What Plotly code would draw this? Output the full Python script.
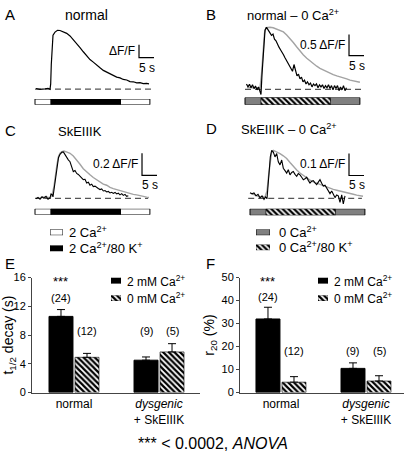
import plotly.graph_objects as go

W, H = 407, 454
FONT = "Liberation Sans, Arial, Helvetica, sans-serif"
PX_PER_S = 3.0

# ---------------- data ----------------
# stimulus timing (s)
stim_on, stim_off, rec_end = 5.3, 28.5, 38.3

# Panel A: normal (time s, dF/F)
a_black = [(0.33, 0.02), (1.67, -0.01), (3.33, 0.01), (4.33, 0.03), (5.0, -0.01), (5.23, 0.20),
           (5.43, 0.95), (5.67, 1.70), (6.0, 2.08), (6.67, 2.20), (7.5, 2.27), (8.33, 2.26),
           (9.33, 2.22), (10.57, 2.15), (11.67, 2.05), (12.77, 1.91), (13.9, 1.74), (15.0, 1.60),
           (16.1, 1.44), (17.23, 1.29), (18.33, 1.14), (19.43, 1.04), (20.57, 0.91), (21.67, 0.82),
           (22.77, 0.72), (23.9, 0.66), (25.0, 0.57), (26.1, 0.54), (27.23, 0.46), (28.33, 0.43),
           (29.43, 0.37), (30.57, 0.35), (31.67, 0.29), (32.77, 0.28), (33.9, 0.24), (35.0, 0.25),
           (36.1, 0.21), (37.23, 0.22), (38.0, 0.20)]

# Panel B: normal, 2 Ca (gray) vs 0 Ca (black)
b_gray = [(0.67, 0.04), (3.3, 0.03), (5.0, 0.04), (5.5, 0.36), (6.0, 0.94), (6.5, 1.33), (7.0, 1.46),
          (8.3, 1.47), (9.4, 1.46), (11.0, 1.42), (12.8, 1.36), (13.9, 1.29), (15.0, 1.21), (16.1, 1.11),
          (17.2, 1.01), (18.3, 0.91), (19.4, 0.82), (20.6, 0.74), (21.7, 0.67), (22.8, 0.60), (23.9, 0.55),
          (25.0, 0.50), (26.1, 0.46), (27.2, 0.42), (28.3, 0.38), (29.4, 0.35), (30.6, 0.32), (31.7, 0.30),
          (32.8, 0.27), (33.9, 0.25), (35.0, 0.22), (36.1, 0.20), (37.2, 0.18), (38.3, 0.17)]
b_black = [(0.5, 0.13), (1.0, 0.06), (1.5, 0.12), (2.0, 0.04), (2.5, 0.11), (3.0, 0.02), (3.5, 0.08),
           (4.0, -0.01), (4.5, 0.06), (5.0, -0.05), (5.33, -0.12), (5.67, 0.36), (6.17, 1.05), (6.67, 1.40),
           (7.17, 1.47), (7.67, 1.42), (8.33, 1.36), (8.83, 1.28), (9.33, 1.31), (9.83, 1.19), (10.33, 1.15),
           (10.83, 1.05), (11.33, 1.00), (11.83, 0.94), (12.33, 0.89), (12.83, 0.82), (13.33, 0.75),
           (13.83, 0.68), (14.33, 0.64), (14.83, 0.55), (15.33, 0.50), (15.83, 0.43), (16.33, 0.59),
           (16.83, 0.45), (17.33, 0.32), (17.83, 0.36), (18.33, 0.25), (18.83, 0.29), (19.33, 0.18),
           (19.83, 0.22), (20.33, 0.13), (20.83, 0.18), (21.33, 0.11), (21.83, 0.15), (22.33, 0.06),
           (22.83, 0.13), (23.33, 0.09), (23.83, 0.13), (24.33, 0.04), (24.83, 0.11), (25.33, 0.06),
           (25.83, 0.11), (26.33, 0.02), (26.83, 0.09), (27.33, 0.04), (27.83, 0.11), (28.33, 0.02),
           (28.83, 0.09), (29.33, -0.01), (29.83, 0.09), (30.33, 0.02), (30.83, 0.09), (31.33, -0.03),
           (31.83, 0.06), (32.33, -0.01), (32.83, 0.09), (33.33, -0.03), (33.83, 0.04)]

# Panel C: SkEIIIK, normal (gray) vs 80 K (black)
c_gray = [(1.67, 0.006), (3.67, 0.015), (5.0, 0.006), (5.67, 0.03), (6.33, 0.11), (6.83, 0.23), (7.33, 0.31),
          (7.83, 0.38), (8.33, 0.41), (9.0, 0.425), (9.67, 0.43), (10.67, 0.42), (11.67, 0.41), (12.77, 0.385),
          (13.9, 0.35), (15.0, 0.31), (16.1, 0.27), (17.2, 0.24), (18.33, 0.215), (19.43, 0.19), (20.57, 0.17),
          (21.67, 0.15), (22.77, 0.13), (23.9, 0.12), (25.0, 0.10), (26.1, 0.09), (27.23, 0.08), (28.33, 0.07),
          (29.43, 0.062), (30.57, 0.053), (31.67, 0.044), (32.77, 0.037), (33.9, 0.033), (35.0, 0.024),
          (36.1, 0.018), (37.23, 0.012), (38.0, 0.009)]
c_black = [(0.33, -0.003), (1.0, 0.01), (1.67, -0.007), (2.33, 0.015), (3.0, 0.002), (3.67, 0.02), (4.33, -0.007),
           (5.0, 0.006), (5.33, 0.04), (5.67, 0.037), (6.0, 0.015), (6.33, 0.085), (6.83, 0.19), (7.33, 0.30),
           (7.83, 0.37), (8.33, 0.40), (9.0, 0.42), (9.5, 0.42), (10.0, 0.395), (10.57, 0.377), (11.1, 0.35),
           (11.67, 0.333), (12.23, 0.29), (12.77, 0.244), (13.33, 0.253), (13.9, 0.227), (14.43, 0.218),
           (15.0, 0.20), (15.57, 0.187), (16.1, 0.171), (16.67, 0.174), (17.23, 0.141), (17.77, 0.147),
           (18.33, 0.121), (18.9, 0.13), (19.43, 0.108), (20.0, 0.112), (20.57, 0.097), (21.1, 0.09),
           (21.67, 0.081), (22.23, 0.087), (22.77, 0.068), (23.33, 0.072), (23.9, 0.059), (24.43, 0.064),
           (25.0, 0.05), (25.57, 0.056), (26.1, 0.046), (26.67, 0.055), (27.23, 0.041), (27.77, 0.048),
           (28.33, 0.033), (28.9, 0.044), (29.43, 0.028), (30.0, 0.037), (30.57, 0.019), (31.1, 0.024)]

# Panel D: SkEIIIK, 2 Ca (gray) vs 0 Ca (black)
d_gray = [(0.67, 0.021), (3.33, 0.007), (5.0, 0.007), (5.67, 0.034), (6.17, 0.10), (6.67, 0.166), (7.17, 0.206),
          (7.77, 0.218), (8.9, 0.212), (10.0, 0.203), (11.1, 0.193), (12.23, 0.181), (13.33, 0.163),
          (14.43, 0.144), (15.57, 0.129), (16.67, 0.115), (17.77, 0.103), (18.9, 0.093), (20.0, 0.083),
          (21.1, 0.075), (22.23, 0.069), (23.33, 0.063), (24.43, 0.057), (25.57, 0.052), (26.67, 0.046),
          (27.77, 0.041), (28.9, 0.037), (30.0, 0.034), (31.1, 0.030), (32.23, 0.026), (33.33, 0.023),
          (34.43, 0.019), (35.57, 0.015), (36.67, 0.012), (37.67, 0.010)]
d_black = [(0.0, 0.026), (0.67, 0.021), (1.33, 0.025), (2.0, 0.012), (2.67, 0.019), (3.33, 0.003), (4.0, 0.012),
           (4.67, -0.004), (5.17, 0.007), (5.67, -0.001), (6.0, 0.056), (6.33, 0.131), (6.77, 0.188),
           (7.23, 0.218), (7.77, 0.210), (8.33, 0.188), (8.9, 0.203), (9.43, 0.166), (10.0, 0.152),
           (10.57, 0.174), (11.1, 0.137), (11.67, 0.126), (12.23, 0.115), (12.77, 0.130), (13.33, 0.107),
           (13.9, 0.118), (14.43, 0.122), (15.0, 0.109), (15.57, 0.100), (16.1, 0.113), (16.67, 0.107),
           (17.23, 0.096), (17.77, 0.085), (18.33, 0.089), (18.9, 0.096), (19.43, 0.082), (20.0, 0.070),
           (20.57, 0.078), (21.1, 0.081), (21.67, 0.071), (22.23, 0.063), (22.77, 0.074), (23.33, 0.085),
           (23.9, 0.069), (24.43, 0.056), (25.0, 0.060), (25.57, 0.048), (26.1, 0.038), (26.67, 0.022),
           (27.23, 0.034), (27.77, 0.021), (28.33, 0.004), (28.9, 0.016), (29.43, 0.012), (30.0, -0.018),
           (30.57, 0.016), (31.1, -0.025), (31.67, 0.012)]

# scale bars: (dF/F value, label)
scale_values = [None, 0.5, 0.2, 0.1]
scale_labels = ["\u0394F/F", "0.5 \u0394F/F", "0.2 \u0394F/F", "0.1 \u0394F/F"]
time_scale = 5  # s

# Panels E/F
conditions = ["normal", "<i>dysgenic</i><br>+ SkEIIIK"]
t_half_2ca = [10.6, 4.5]
t_half_2ca_err = [0.95, 0.45]
t_half_0ca = [4.9, 5.65]
t_half_0ca_err = [0.55, 1.15]
r20_2ca = [32.0, 10.5]
r20_2ca_err = [5.1, 2.4]
r20_0ca = [4.5, 5.0]
r20_0ca_err = [2.4, 2.3]
n_2ca = [24, 9]
n_0ca = [12, 5]

# ---------------- helpers ----------------
fig = go.Figure()
axes = {}
shapes = []
annotations = []
n_ax = [0]


def add_axes(xdom, ydom, xrange, yrange):
    n_ax[0] += 1
    s = "" if n_ax[0] == 1 else str(n_ax[0])
    axes["xaxis" + s] = dict(domain=[xdom[0] / W, xdom[1] / W], range=list(xrange), anchor="y" + s,
                             visible=False, fixedrange=True)
    axes["yaxis" + s] = dict(domain=[1 - ydom[1] / H, 1 - ydom[0] / H], range=list(yrange), anchor="x" + s,
                             visible=False, fixedrange=True)
    return "x" + s, "y" + s, s


def ann(text, px, py, size, xanchor="center", yanchor="middle", **kw):
    annotations.append(dict(text=text, x=px / W, y=1 - py / H, xref="paper", yref="paper",
                            xanchor=xanchor, yanchor=yanchor, showarrow=False,
                            font=dict(size=size, family=FONT, color="black"), **kw))


HATCH = dict(shape="\\", fgcolor="black", bgcolor="white", size=4, solidity=0.55, fillmode="replace")
STYLE = {
    "white": dict(color="white", line=dict(color="black", width=1)),
    "black": dict(color="black", line=dict(color="black", width=1)),
    "gray": dict(color="#808080", line=dict(color="black", width=1)),
    "hatch": dict(color="white", pattern=HATCH, line=dict(color="black", width=0.6)),
}


def trace_panel(x0, b, k, box, stim_y, series, off_style, on_style, scale_i, sb_anchor, base_span):
    xr = ((box[0] - x0) / PX_PER_S, (box[1] - x0) / PX_PER_S)
    yr = ((b - box[3]) / k, (b - box[2]) / k)
    xa, ya, s = add_axes((box[0], box[1]), (box[2], box[3]), xr, yr)
    shapes.append(dict(type="line", xref=xa, yref=ya, x0=base_span[0], x1=base_span[1], y0=0, y1=0,
                       line=dict(color="#555555", width=1.3, dash="6px,4px"), layer="below"))
    for pts, color, width in series:
        fig.add_trace(go.Scatter(x=[p[0] for p in pts], y=[p[1] for p in pts], mode="lines",
                                 line=dict(color=color, width=width), xaxis=xa, yaxis=ya,
                                 hoverinfo="skip", showlegend=False))
    # scale bar
    t_sb, v_sb = sb_anchor
    sv = scale_values[scale_i] if scale_values[scale_i] is not None else 0.5
    fig.add_trace(go.Scatter(x=[t_sb, t_sb, t_sb + time_scale], y=[v_sb + sv, v_sb, v_sb], mode="lines",
                             line=dict(color="black", width=1.2), xaxis=xa, yaxis=ya,
                             hoverinfo="skip", showlegend=False))
    annotations.append(dict(text=scale_labels[scale_i], x=t_sb, y=v_sb + sv / 2, xref=xa, yref=ya,
                            xanchor="right", yanchor="middle", xshift=-2, showarrow=False,
                            font=dict(size=12, family=FONT, color="black")))
    annotations.append(dict(text="%d s" % time_scale, x=t_sb + time_scale / 2, y=v_sb, xref=xa, yref=ya,
                            xanchor="center", yanchor="top", yshift=-1, showarrow=False,
                            font=dict(size=12, family=FONT, color="black")))
    # stimulus bar
    sxa, sya, _ = add_axes((box[0], box[1]), stim_y, xr, (-0.5, 0.5))
    fig.add_trace(go.Bar(y=[0], x=[rec_end], base=[0], orientation="h", width=[1], marker=STYLE[off_style],
                         xaxis=sxa, yaxis=sya, hoverinfo="skip", showlegend=False))
    fig.add_trace(go.Bar(y=[0], x=[stim_off - stim_on], base=[stim_on], orientation="h", width=[1],
                         marker=STYLE[on_style], xaxis=sxa, yaxis=sya, hoverinfo="skip", showlegend=False))


GRAY = "#a3a3a3"
# A
trace_panel(35, 85.3, 26.6, (28, 160, 14, 93), (95.5, 101.5), [(a_black, "black", 1.2)],
            "white", "black", 0, (34.67, 1.214), (0, 39))
# B
trace_panel(245, 85.7, 43.4, (238, 372, 14, 93), (94, 101.5), [(b_gray, GRAY, 1.4), (b_black, "black", 1.2)],
            "gray", "hatch", 1, (34.67, 0.80), (0, 39))
# C
trace_panel(35, 197.7, 113.3, (28, 165, 140, 206), (208.3, 214.5), [(c_gray, GRAY, 1.4), (c_black, "black", 1.1)],
            "white", "black", 2, (35.67, 0.209), (0, 37.7))
# D
trace_panel(250, 197.7, 227, (243, 372, 140, 206), (208.3, 215), [(d_gray, GRAY, 1.4), (d_black, "black", 1.1)],
            "gray", "hatch", 3, (33.0, 0.104), (-0.6, 37.3))

# ---------------- legend keys ----------------
def key(style, xl, xr, yt, yb, text, tx, size):
    xa, ya, _ = add_axes((xl, xr), (yt, yb), (0, 1), (-0.5, 0.5))
    fig.add_trace(go.Bar(y=[0], x=[1], base=[0], orientation="h", width=[1], marker=STYLE[style],
                         xaxis=xa, yaxis=ya, hoverinfo="skip", showlegend=False))
    ann(text, tx, (yt + yb) / 2, size, xanchor="left")


key("white", 50, 63, 229.5, 235.5, "2 Ca<sup>2+</sup>", 67, 13)
key("black", 50, 63, 246, 252, "2 Ca<sup>2+</sup>/80 K<sup>+</sup>", 67, 13)
key("gray", 256, 270, 229.5, 235.5, "0 Ca<sup>2+</sup>", 277, 13)
key("hatch", 256, 270, 245, 251, "0 Ca<sup>2+</sup>/80 K<sup>+</sup>", 277, 13)

# ---------------- bar charts E / F ----------------
BW, OFF_B, OFF_H = 0.282, -0.294, 0.012


def bar_panel(box, xr, yr, tickvals, ytitle, m2, e2, m0, e0, y_star, y_n24, y_n, key_x):
    xa, ya, s = add_axes((box[0], box[1]), (box[2], box[3]), xr, yr)
    axes["xaxis" + s].update(visible=True, showline=True, linecolor="#444", linewidth=1, ticks="",
                             tickvals=[0, 1], ticktext=conditions, showgrid=False, zeroline=False,
                             tickfont=dict(size=12, family=FONT, color="black"))
    axes["yaxis" + s].update(visible=True, showline=True, linecolor="#444", linewidth=1, ticks="outside",
                             ticklen=3, tickcolor="#444", tickvals=tickvals, showgrid=False, zeroline=False,
                             tickfont=dict(size=11, family=FONT, color="black"),
                             title=dict(text=ytitle, standoff=3, font=dict(size=14, family=FONT, color="black")))
    fig.add_trace(go.Bar(x=[0, 1], y=m2, width=BW, offset=OFF_B, marker=STYLE["black"],
                         error_y=dict(type="data", array=e2, arrayminus=[0, 0], symmetric=False,
                                      color="black", thickness=1, width=4),
                         xaxis=xa, yaxis=ya, hoverinfo="skip", showlegend=False))
    fig.add_trace(go.Bar(x=[0, 1], y=m0, width=BW, offset=OFF_H, marker=STYLE["hatch"],
                         error_y=dict(type="data", array=e0, arrayminus=[0, 0], symmetric=False,
                                      color="black", thickness=1, width=4),
                         xaxis=xa, yaxis=ya, hoverinfo="skip", showlegend=False))
    cb = OFF_B + BW / 2
    ch = OFF_H + BW / 2
    fs = dict(size=11, family=FONT, color="black")
    annotations.append(dict(text="***", x=cb, y=y_star, xref=xa, yref=ya, showarrow=False,
                            font=dict(size=13, family=FONT, color="black")))
    annotations.append(dict(text="(%d)" % n_2ca[0], x=cb, y=y_n24, xref=xa, yref=ya, showarrow=False, font=fs))
    annotations.append(dict(text="(%d)" % n_0ca[0], x=ch, y=y_n, xref=xa, yref=ya, showarrow=False, font=fs))
    annotations.append(dict(text="(%d)" % n_2ca[1], x=1 + cb, y=y_n, xref=xa, yref=ya, showarrow=False, font=fs))
    annotations.append(dict(text="(%d)" % n_0ca[1], x=1 + ch, y=y_n, xref=xa, yref=ya, showarrow=False, font=fs))
    key("black", key_x, key_x + 10, 279, 285, "2 mM Ca<sup>2+</sup>", key_x + 14, 12)
    key("hatch", key_x, key_x + 10, 297, 303, "0 mM Ca<sup>2+</sup>", key_x + 14, 12)


bar_panel((32, 200, 279, 397), (-0.494, 1.482), (0, 16), [0, 4, 8, 12, 16], "t<sub>1/2</sub> decay (s)",
          t_half_2ca, t_half_2ca_err, t_half_0ca, t_half_0ca_err, 15.46, 13.15, 8.6, 111)
bar_panel((240, 404, 279, 397), (-0.482, 1.447), (0, 50), [0, 10, 20, 30, 40, 50], "r<sub>20</sub> (%)",
          r20_2ca, r20_2ca_err, r20_0ca, r20_0ca_err, 48.3, 41.5, 18.0, 318)

# ---------------- titles / labels ----------------
ann("A", 3, 9, 15, xanchor="left")
ann("normal", 86, 9, 14)
ann("B", 204, 9, 15, xanchor="left")
ann("normal \u2013 0 Ca<sup>2+</sup>", 293, 9, 13)
ann("C", 3, 128, 15, xanchor="left")
ann("SkEIIIK", 80, 129, 13)
ann("D", 204, 126, 15, xanchor="left")
ann("SkEIIIK \u2013 0 Ca<sup>2+</sup>", 289, 126, 13)
ann("E", 3, 265, 15, xanchor="left")
ann("F", 204, 265, 15, xanchor="left")
ann("*** < 0.0002, <i>ANOVA</i>", 213, 449, 16)

fig.update_layout(width=W, height=H, margin=dict(l=0, r=0, t=0, b=0), paper_bgcolor="white",
                  plot_bgcolor="rgba(0,0,0,0)", showlegend=False, barmode="overlay",
                  font=dict(family=FONT, color="black"), shapes=shapes, annotations=annotations, **axes)
fig.write_html("out.html", config={"displayModeBar": False, "staticPlot": True},
               post_script="document.body.style.margin='0px';document.body.style.overflow='hidden';")
